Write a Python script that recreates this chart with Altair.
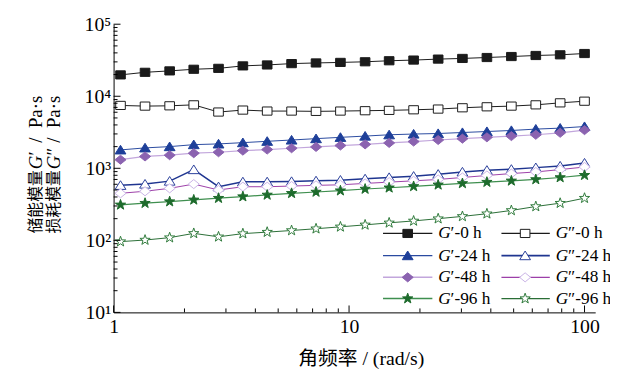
import altair as alt
import pandas as pd

# ---------------- data ----------------
freq = [1.07, 1.36, 1.73, 2.19, 2.79, 3.54, 4.49, 5.70, 7.24, 9.19,
        11.7, 14.8, 18.8, 23.9, 30.3, 38.5, 48.9, 62.1, 78.8, 100]

g1_0 = [19800, 21500, 22500, 23700, 24400, 26400, 27200, 28400, 29000, 29500,
        30100, 31100, 31800, 32800, 33500, 34500, 35600, 36800, 37600, 39200]
g2_0 = [7460, 7300, 7370, 7600, 6040, 6430, 6230, 6230, 6170, 6230,
        6300, 6370, 6490, 6640, 6920, 7140, 7300, 7600, 8100, 8540]
g1_24 = [1800, 1920, 2000, 2130, 2180, 2270, 2370, 2470, 2580, 2690,
         2800, 2920, 2990, 3040, 3140, 3240, 3350, 3500, 3610, 3800]
g2_24 = [580, 604, 664, 960, 555, 649, 649, 657, 670, 685,
         714, 746, 777, 828, 890, 939, 969, 1022, 1076, 1183]
g1_48 = [1316, 1460, 1520, 1620, 1670, 1760, 1820, 1900, 1980, 2070,
         2150, 2250, 2350, 2470, 2580, 2690, 2800, 2920, 3110, 3390]
g2_48 = [450, 480, 527, 604, 500, 555, 555, 567, 580, 590,
         617, 643, 670, 700, 746, 795, 846, 890, 960, 1042]
g1_96 = [311, 328, 345, 365, 385, 405, 427, 450, 469, 489,
         516, 537, 561, 590, 617, 643, 670, 700, 746, 802]
g2_96 = [96, 101, 109, 125, 112, 124, 130, 137, 145, 154,
         164, 175, 186, 200, 215, 234, 260, 295, 328, 385]

legend_suffix = ["′-0 h", "″-0 h", "′-24 h", "″-24 h",
                 "′-48 h", "″-48 h", "′-96 h", "″-96 h"]
series_values = [g1_0, g2_0, g1_24, g2_24, g1_48, g2_48, g1_96, g2_96]

y_major = [10, 100, 1000, 10000, 100000]
y_minor = [m * d for d in [10, 100, 1000, 10000] for m in range(2, 10)]
x_major = [1, 10, 100]
x_minor = [m * d for d in [1, 10] for m in range(2, 10)]

# ---------------- styles ----------------
FONT = "Liberation Serif, Times New Roman, Noto Sans CJK SC"
CJK = "Liberation Serif, Noto Sans CJK SC"
STAR = ("M0,-1L0.235,-0.324L0.951,-0.309L0.380,0.124L0.588,0.809L0,0.4"
        "L-0.588,0.809L-0.380,0.124L-0.951,-0.309L-0.235,-0.324Z")
SQUARE = "M-1,-0.85H1V0.85H-1Z"
DIAMOND = "M-1,0L0,-0.82L1,0L0,0.82Z"
TRI = "M0,-0.85L1,0.75L-1,0.75Z"

styles = [
    dict(line="#1a1a1a", lw=1.0, shape=SQUARE, fill="#1a1a1a", stroke="#1a1a1a", size=95),
    dict(line="#1a1a1a", lw=1.0, shape=SQUARE, fill="white", stroke="#1a1a1a", size=95),
    dict(line="#2a4aa0", lw=1.0, shape=TRI, fill="#1e3f99", stroke="#1e3f99", size=120),
    dict(line="#1f3590", lw=1.5, shape=TRI, fill="white", stroke="#2a3f9a", size=120),
    dict(line="#c2a6dc", lw=1.2, shape=DIAMOND, fill="#8b63b0", stroke="#8b63b0", size=125),
    dict(line="#9c3fa8", lw=1.0, shape=DIAMOND, fill="white", stroke="#c9b3e6", size=125),
    dict(line="#3f8f4f", lw=1.2, shape=STAR, fill="#1d6b2c", stroke="#1d6b2c", size=120),
    dict(line="#2a6e36", lw=1.0, shape=STAR, fill="white", stroke="#2f7a3b", size=120),
]

W, H = 488, 292
xscale = alt.Scale(type="log", domain=[1, 111], nice=False)
yscale = alt.Scale(type="log", domain=[10, 100000], nice=False)

xaxis = alt.Axis(values=x_major, ticks=False, tickSize=0, labelPadding=4,
                 labelFont=FONT, labelFontSize=20, labelColor="black",
                 domainColor="black", domainWidth=1, grid=False, title="",
                 labelFlush=False, labelOverlap=False)
yaxis = alt.Axis(values=y_major, ticks=False, tickSize=0, labelPadding=3,
                 labelFont=FONT, labelFontSize=20, labelColor="black",
                 domainColor="black", domainWidth=1, grid=False, title="",
                 labelFlush=False, labelOverlap=False,
                 labelExpr="'10' + ['⁰','¹','²','³','⁴','⁵'][round(log(datum.value)/LN10)]")

X = lambda f: alt.X(f, scale=xscale, axis=xaxis)
Y = lambda f: alt.Y(f, scale=yscale, axis=yaxis)

layers = []
for i, (vals, st) in enumerate(zip(series_values, styles)):
    df = pd.DataFrame({"f": freq, "g": vals})
    ln = alt.Chart(df).mark_line(color=st["line"], strokeWidth=st["lw"]).encode(
        x=X("f:Q"), y=Y("g:Q"))
    pt = alt.Chart(df).mark_point(shape=st["shape"], filled=True, fill=st["fill"],
                                  stroke=st["stroke"], strokeWidth=1, size=st["size"],
                                  opacity=1).encode(x=X("f:Q"), y=Y("g:Q"))
    layers += [ln, pt]

# inward ticks
def yticks(vals, length):
    return alt.Chart(pd.DataFrame({"g": vals})).mark_rule(color="black", strokeWidth=1).encode(
        y=Y("g:Q"), x=alt.value(0), x2=alt.value(length))

def xticks(vals, length):
    return alt.Chart(pd.DataFrame({"f": vals})).mark_rule(color="black", strokeWidth=1).encode(
        x=X("f:Q"), y=alt.value(H), y2=alt.value(H - length))

layers += [yticks(y_major, 7), yticks(y_minor, 4), xticks(x_major, 7), xticks(x_minor, 4)]

one = pd.DataFrame({"k": [0]})

def txt(s, x, y, size=17, italic=False, angle=0, align="left", font=FONT):
    kw = dict(align=align, baseline="middle", font=font, fontSize=size, color="black")
    if italic:
        kw["fontStyle"] = "italic"
    if angle:
        kw["angle"] = angle
    return alt.Chart(one).mark_text(**kw).encode(
        x=alt.value(x), y=alt.value(y), text=alt.value(s))

# legend (2 columns x 4 rows)
row_y = [212, 234.5, 256.5, 278]
col_line = [(273, 323), (393, 442)]
col_mark = [298, 417]
col_text = [329, 448]
for i, st in enumerate(styles):
    r, c = i // 2, i % 2
    y = row_y[r]
    layers.append(alt.Chart(one).mark_rule(color=st["line"], strokeWidth=st["lw"] + 0.3).encode(
        x=alt.value(col_line[c][0]), x2=alt.value(col_line[c][1]), y=alt.value(y)))
    layers.append(alt.Chart(one).mark_point(shape=st["shape"], filled=True, fill=st["fill"],
                                            stroke=st["stroke"], strokeWidth=1, size=st["size"],
                                            opacity=1).encode(
        x=alt.value(col_mark[c]), y=alt.value(y)))
    layers.append(txt("G", col_text[c], y, size=17.5, italic=True))
    layers.append(txt(legend_suffix[i], col_text[c] + 12.5, y, size=17.5))

# y-axis title (two rotated lines)
for lx, word, prime in [(-79, "储能模量", "′"), (-60, "损耗模量", "″")]:
    layers.append(txt(word, lx, 212, size=16, angle=270, font=CJK))
    layers.append(txt("G", lx, 147, size=19, angle=270, italic=True))
    layers.append(txt(prime, lx, 133, size=19, angle=270))
    layers.append(txt("/\u00a0\u00a0Pa·s", lx, 120, size=19, angle=270))

# x-axis title
layers.append(txt("角频率 / (rad/s)", 251, 339, size=20, align="center", font=CJK))

chart = alt.layer(*layers).properties(
    width=W, height=H,
    autosize=alt.AutoSizeParams(type="none"),
    padding={"left": 107, "top": 14, "right": 15, "bottom": 60},
).configure_view(stroke=None)

chart.save("out.html", embed_options={"renderer": "svg", "actions": False})
